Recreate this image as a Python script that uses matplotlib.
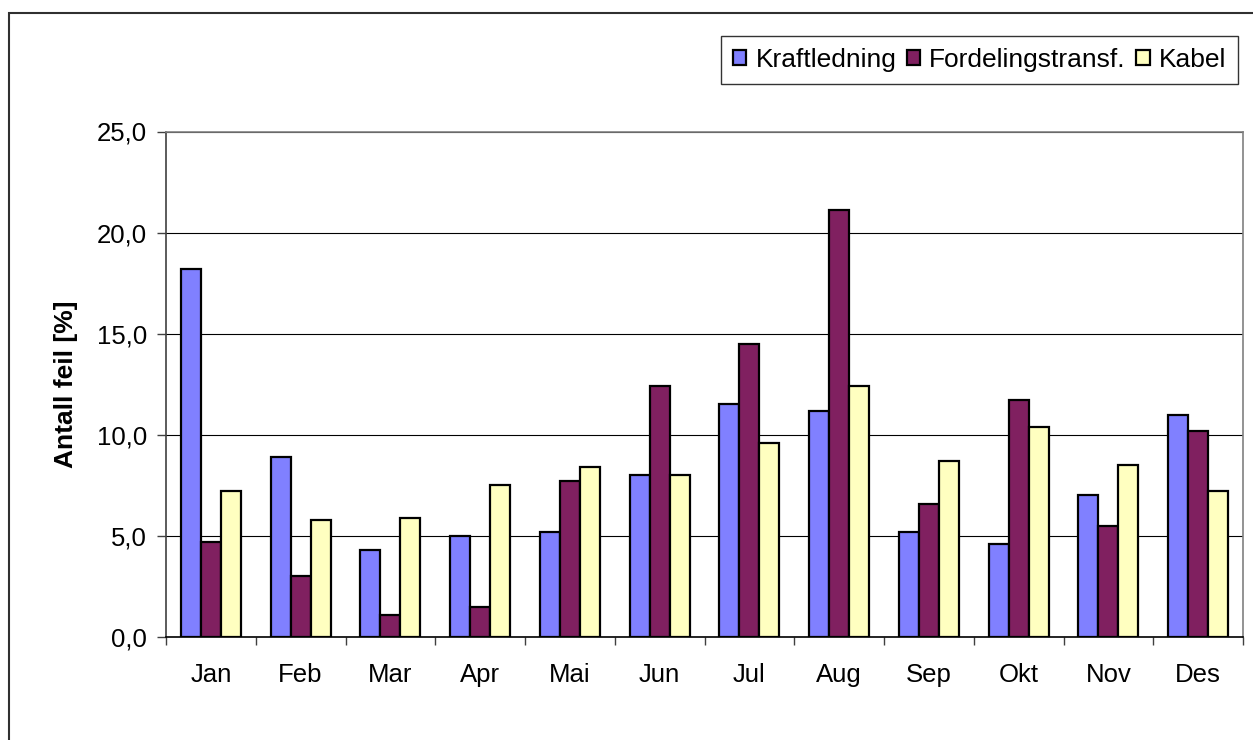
import numpy as np
import matplotlib.pyplot as plt
from matplotlib.patches import Rectangle
from matplotlib.ticker import FuncFormatter, MultipleLocator

plt.rcParams['font.family'] = ['Liberation Sans', 'DejaVu Sans']

# Data
maaneder = ['Jan', 'Feb', 'Mar', 'Apr', 'Mai', 'Jun', 'Jul', 'Aug', 'Sep', 'Okt', 'Nov', 'Des']
kraftledning = [18.2, 8.9, 4.3, 5.0, 5.2, 8.0, 11.5, 11.2, 5.2, 4.6, 7.0, 11.0]
fordelingstransf = [4.7, 3.0, 1.1, 1.5, 7.7, 12.4, 14.5, 21.1, 6.6, 11.7, 5.5, 10.2]
kabel = [7.2, 5.8, 5.9, 7.5, 8.4, 8.0, 9.6, 12.4, 8.7, 10.4, 8.5, 7.2]

serier = [('Kraftledning', kraftledning, '#8080FF'),
          ('Fordelingstransf.', fordelingstransf, '#802060'),
          ('Kabel', kabel, '#FFFFC0')]

fig = plt.figure(figsize=(12.53, 7.40), dpi=100)
ax = fig.add_axes([166 / 1253, 1 - 637 / 740, 1077 / 1253, 505.5 / 740])

# outer chart border (only top and left visible)
fig.patches.append(Rectangle((9 / 1253, -0.1), 1.2, 1 - 13 / 740 + 0.1,
                             transform=fig.transFigure, fill=False,
                             edgecolor='#303030', linewidth=1.5, zorder=0))

x = np.arange(len(maaneder))
w = 0.2222
for i, (navn, verdier, farge) in enumerate(serier):
    ax.bar(x + (i - 1) * w, verdier, width=w, color=farge, edgecolor='black',
           linewidth=1.6, label=navn, zorder=3)

ax.set_xlim(-0.5, len(maaneder) - 0.5)
ax.set_ylim(0, 25)
ax.yaxis.set_major_locator(MultipleLocator(5))
ax.yaxis.set_major_formatter(FuncFormatter(lambda v, p: f'{v:.1f}'.replace('.', ',')))
ax.grid(axis='y', color='black', linewidth=0.8, zorder=1)

ax.set_xticks(x)
ax.set_xticklabels(maaneder)
ax.set_xticks(np.arange(-0.5, len(maaneder)), minor=True)
ax.tick_params(axis='x', which='major', length=0, pad=19, labelsize=18.5)
ax.tick_params(axis='x', which='minor', length=6, width=1, direction='out', color='#404040')
ax.tick_params(axis='y', length=6.5, width=1, pad=7, labelsize=18.5, color='#404040')

for s in ['top', 'right']:
    ax.spines[s].set_color('#808080')
    ax.spines[s].set_linewidth(1.2)
ax.spines['left'].set_color('#404040')
ax.spines['bottom'].set_color('black')
ax.spines['left'].set_linewidth(1.2)
ax.spines['bottom'].set_linewidth(1.2)

ax.set_ylabel('Antall feil [%]', fontsize=19, fontweight='bold', labelpad=14)

leg = fig.legend(loc='upper right', bbox_to_anchor=(1238 / 1253, 1 - 36 / 740), ncol=3,
                 fontsize=19, frameon=True, fancybox=False, shadow=False,
                 handlelength=0.5, handleheight=0.5, handletextpad=0.35,
                 columnspacing=0.4, borderpad=0.45, borderaxespad=0)
leg.get_frame().set_edgecolor('black')
leg.get_frame().set_linewidth(1.0)

fig.savefig('out.png', dpi=100)
